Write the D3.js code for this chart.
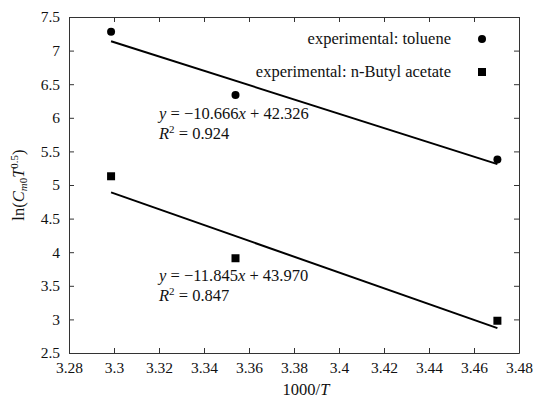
<!DOCTYPE html>
<html>
<head>
<meta charset="utf-8">
<script src="https://cdn.jsdelivr.net/npm/d3@7"></script>
<style>
  html, body { margin: 0; padding: 0; background: #fff; }
  svg { display: block; }
  text { font-family: "Liberation Serif", "DejaVu Serif", serif; fill: #111; }
</style>
</head>
<body>
<div id="chart"></div>
<script>
// 1000/T for the three temperatures
const invT = [3.2987, 3.3540, 3.4704];
const toluene = [7.28, 6.34, 5.38];
const butyl = [5.13, 3.91, 2.98];

// fitted line ends
const fitTolueneX = [3.2987, 3.4704];
const fitTolueneY = [7.14, 5.31];
const fitButylX = [3.2987, 3.4704];
const fitButylY = [4.89, 2.87];

const xTicks = [3.28, 3.3, 3.32, 3.34, 3.36, 3.38, 3.4, 3.42, 3.44, 3.46, 3.48];
const yTicks = [2.5, 3, 3.5, 4, 4.5, 5, 5.5, 6, 6.5, 7, 7.5];

const W = 533, H = 403;
const margin = { top: 17, right: 14, bottom: 50, left: 69 };
const w = W - margin.left - margin.right;
const h = H - margin.top - margin.bottom;

const svg = d3.select("#chart").append("svg").attr("width", W).attr("height", H);
const g = svg.append("g").attr("transform", `translate(${margin.left},${margin.top})`);

const x = d3.scaleLinear().domain([3.28, 3.48]).range([0, w]);
const y = d3.scaleLinear().domain([2.5, 7.5]).range([h, 0]);

const fmt = d => String(+d.toFixed(2));
const axisColor = "#333";
const fs = 16.5;

function style(sel, showText) {
  sel.select(".domain").attr("stroke", axisColor).attr("stroke-width", 1);
  sel.selectAll(".tick line").attr("stroke", axisColor);
  if (showText) sel.selectAll(".tick text").attr("font-size", 15.5).attr("font-family", "Liberation Serif, serif").attr("fill", "#111");
  else sel.selectAll(".tick text").remove();
}

g.append("g").attr("transform", `translate(0,${h})`)
  .call(d3.axisBottom(x).tickValues(xTicks).tickFormat(fmt).tickSizeInner(-5).tickSizeOuter(0).tickPadding(9))
  .call(s => style(s, true));
g.append("g")
  .call(d3.axisTop(x).tickValues(xTicks).tickSizeInner(-5).tickSizeOuter(0))
  .call(s => style(s, false));
g.append("g")
  .call(d3.axisLeft(y).tickValues(yTicks).tickFormat(fmt).tickSizeInner(-5).tickSizeOuter(0).tickPadding(9))
  .call(s => style(s, true));
g.append("g").attr("transform", `translate(${w},0)`)
  .call(d3.axisRight(y).tickValues(yTicks).tickSizeInner(-5).tickSizeOuter(0))
  .call(s => style(s, false));

// fit lines
const line = d3.line().x(d => x(d[0])).y(d => y(d[1]));
[[fitTolueneX, fitTolueneY], [fitButylX, fitButylY]].forEach(([xs, ys]) => {
  g.append("path").attr("d", line(d3.zip(xs, ys)))
    .attr("fill", "none").attr("stroke", "#000").attr("stroke-width", 2);
});

// points
g.selectAll(".tol").data(d3.zip(invT, toluene)).enter().append("circle")
  .attr("cx", d => x(d[0])).attr("cy", d => y(d[1])).attr("r", 4).attr("fill", "#000");
const sq = 8;
g.selectAll(".but").data(d3.zip(invT, butyl)).enter().append("rect")
  .attr("x", d => x(d[0]) - sq / 2).attr("y", d => y(d[1]) - sq / 2)
  .attr("width", sq).attr("height", sq).attr("fill", "#000");

// legend
const legend = svg.append("g");
legend.append("text").attr("x", 451).attr("y", 44).attr("text-anchor", "end").attr("font-size", fs)
  .text("experimental: toluene");
legend.append("circle").attr("cx", 482).attr("cy", 39).attr("r", 4).attr("fill", "#000");
legend.append("text").attr("x", 451).attr("y", 77).attr("text-anchor", "end").attr("font-size", fs)
  .text("experimental: n-Butyl acetate");
legend.append("rect").attr("x", 478).attr("y", 68).attr("width", 8).attr("height", 8).attr("fill", "#000");

// equation annotations
function eq(px, py, slope, icpt, r2) {
  const t1 = svg.append("text").attr("x", px).attr("y", py).attr("font-size", fs);
  t1.append("tspan").attr("font-style", "italic").text("y");
  t1.append("tspan").text(" = \u2212" + slope);
  t1.append("tspan").attr("font-style", "italic").text("x");
  t1.append("tspan").text(" + " + icpt);
  const t2 = svg.append("text").attr("x", px).attr("y", py + 20).attr("font-size", fs);
  t2.append("tspan").attr("font-style", "italic").text("R");
  t2.append("tspan").attr("font-size", 11).attr("dy", -6).text("2");
  t2.append("tspan").attr("dy", 6).text(" = " + r2);
}
eq(159, 119, "10.666", "42.326", "0.924");
eq(159, 281, "11.845", "43.970", "0.847");

// axis titles
const xl = svg.append("text").attr("x", 306).attr("y", 395).attr("text-anchor", "middle").attr("font-size", fs);
xl.append("tspan").text("1000/");
xl.append("tspan").attr("font-style", "italic").text("T");

const yl = svg.append("text").attr("transform", "translate(24,185) rotate(-90)")
  .attr("text-anchor", "middle").attr("font-size", fs);
yl.append("tspan").text("ln(");
yl.append("tspan").attr("font-style", "italic").text("C");
yl.append("tspan").attr("font-size", 11).attr("dy", 3).attr("font-style", "italic").text("m");
yl.append("tspan").attr("font-size", 11).text("0");
yl.append("tspan").attr("dy", -3).attr("font-style", "italic").text("T");
yl.append("tspan").attr("font-size", 11).attr("dy", -6).text("0.5");
yl.append("tspan").attr("dy", 6).text(")");
</script>
</body>
</html>
